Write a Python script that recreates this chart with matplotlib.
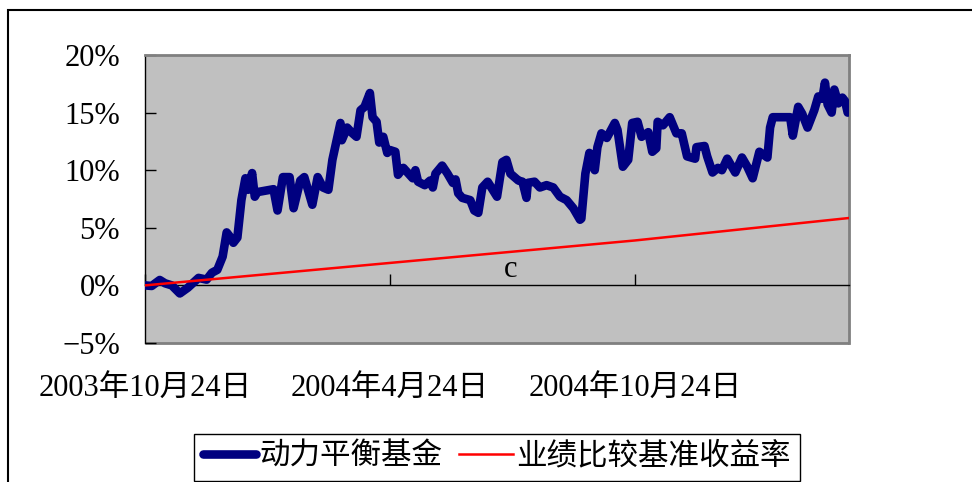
import numpy as np
import pandas as pd
import matplotlib
matplotlib.use("Agg")
import matplotlib.pyplot as plt
from matplotlib.patches import Rectangle

plt.rcParams["font.family"] = ["Liberation Serif", "Noto Sans CJK SC", "DejaVu Sans"]

start_date = pd.Timestamp("2003-10-24")
end_days = 526

# fund cumulative return (%), days counted from 2003-10-24
fund_days = [0, 5, 11, 15, 20, 26, 32, 40, 46, 50, 54, 58, 61, 63, 66, 69, 72, 75,
             77, 80, 82, 84, 96, 99, 103, 108, 111, 116, 119, 125, 129, 133, 137,
             140, 146, 147, 151, 155, 158, 161, 164, 168, 170, 173, 175, 178, 181,
             183, 187, 189, 193, 200, 202, 204, 209, 213, 215, 217, 222, 226, 230,
             232, 234, 237, 243, 246, 249, 252, 256, 263, 267, 270, 273, 279, 282,
             285, 286, 291, 295, 300, 305, 310, 315, 320, 325, 326, 329, 332, 336,
             338, 341, 345, 351, 353, 357, 361, 364, 368, 371, 376, 379, 382, 383,
             387, 392, 397, 401, 405, 411, 412, 418, 420, 424, 428, 431, 435, 441,
             446, 450, 454, 459, 465, 467, 469, 482, 484, 488, 491, 495, 500, 503,
             506, 508, 510, 513, 515, 518, 521, 523, 525]
fund_pct = [0.0, -0.05, 0.47, 0.18, 0.0, -0.7, -0.2, 0.65, 0.5, 1.1, 1.35, 2.5, 4.6,
            4.3, 3.7, 4.15, 7.4, 9.3, 8.3, 9.75, 7.7, 8.1, 8.35, 6.5, 9.4, 9.4, 6.7,
            9.1, 9.4, 7.0, 9.4, 8.5, 8.3, 10.9, 14.1, 12.6, 13.7, 13.2, 12.9, 15.2,
            15.5, 16.7, 14.6, 14.2, 12.4, 12.9, 11.5, 11.75, 11.6, 9.6, 10.2, 9.3,
            10.0, 9.0, 8.7, 9.1, 8.5, 9.7, 10.4, 9.7, 8.9, 9.2, 8.0, 7.6, 7.4, 6.5,
            6.3, 8.5, 9.0, 7.7, 10.7, 10.9, 9.7, 9.1, 9.0, 7.6, 8.9, 9.0, 8.5, 8.7,
            8.5, 7.7, 7.4, 6.7, 5.7, 5.8, 9.7, 11.5, 10.0, 12.0, 13.2, 12.8, 14.1,
            13.5, 10.3, 10.9, 14.1, 14.2, 12.9, 13.3, 11.6, 11.9, 14.2, 13.9, 14.6,
            13.2, 13.2, 11.2, 11.0, 12.0, 12.1, 11.2, 9.8, 10.2, 10.0, 11.0, 9.8,
            11.1, 10.3, 9.3, 11.6, 11.1, 13.7, 14.6, 14.6, 13.0, 15.5, 14.9, 13.7,
            15.2, 16.4, 16.2, 17.6, 15.7, 15.0, 17.0, 15.8, 16.3, 16.0, 15.0]

# benchmark return (%)
bench_days = [0, 183, 366, 526]
bench_pct = [0.0, 1.95, 3.9, 5.85]

tick_dates = ["2003-10-24", "2004-04-24", "2004-10-24"]
tick_labels = ["2003年10月24日", "2004年4月24日", "2004年10月24日"]
y_ticks = [-5, 0, 5, 10, 15, 20]

fund_x = start_date + pd.to_timedelta(fund_days, unit="D")
bench_x = start_date + pd.to_timedelta(bench_days, unit="D")

fig = plt.figure(figsize=(9.72, 4.82), dpi=100)
fig.patch.set_facecolor("white")
ax = fig.add_axes([0.1492, 0.2884, 0.7243, 0.5975])
ax.set_facecolor("#C0C0C0")

ax.plot(fund_x, fund_pct, color="#000080", lw=6.2, solid_capstyle="round",
        solid_joinstyle="round", label="动力平衡基金", zorder=3)
ax.plot(bench_x, bench_pct, color="#FF0000", lw=1.8, label="业绩比较基准收益率", zorder=4)

ax.set_xlim(start_date, start_date + pd.Timedelta(days=end_days))
ax.set_ylim(-5, 20)

ax.set_yticks(y_ticks)
ax.set_yticklabels([f"{v}%".replace("-", "\u2212") for v in y_ticks])
ax.tick_params(axis="y", direction="in", length=8, width=1, pad=18, labelsize=22, colors="black")

# x axis crosses at 0%, labels sit below the plot area
ax.set_xticks(pd.to_datetime(tick_dates))
ax.set_xticklabels(tick_labels)
ax.spines["bottom"].set_position(("data", 0))
ax.spines["bottom"].set_color("black")
ax.spines["bottom"].set_linewidth(1)
ax.tick_params(axis="x", direction="in", length=8, width=1, pad=64, labelsize=22)

for side in ["top", "right"]:
    ax.spines[side].set_color("#808080")
    ax.spines[side].set_linewidth(2)
ax.spines["left"].set_color("black")
ax.spines["left"].set_linewidth(1)
# gray bottom border of the plot area
ax.add_patch(Rectangle((0, 0), 1, 0.0, transform=ax.transAxes, fill=False,
                       edgecolor="#808080", lw=2, clip_on=False))

ax.text(start_date + pd.Timedelta(days=273), 1.35, "c", fontsize=22,
        ha="center", va="center")

leg = fig.legend(loc="center", bbox_to_anchor=(0.511, 0.051), ncol=2, fontsize=22,
                 frameon=True, fancybox=False, edgecolor="black", framealpha=1,
                 handlelength=1.75, handletextpad=0.1, columnspacing=0.55,
                 borderpad=0.3, borderaxespad=0)
leg.get_frame().set_linewidth(1)

# outer chart border (right and bottom edges fall outside the image)
fig.patches.append(Rectangle((8 / 972, -0.2), 2.0, 0.979 + 0.2, transform=fig.transFigure,
                             fill=False, edgecolor="black", lw=1.5))

fig.savefig("out.png", dpi=100)
